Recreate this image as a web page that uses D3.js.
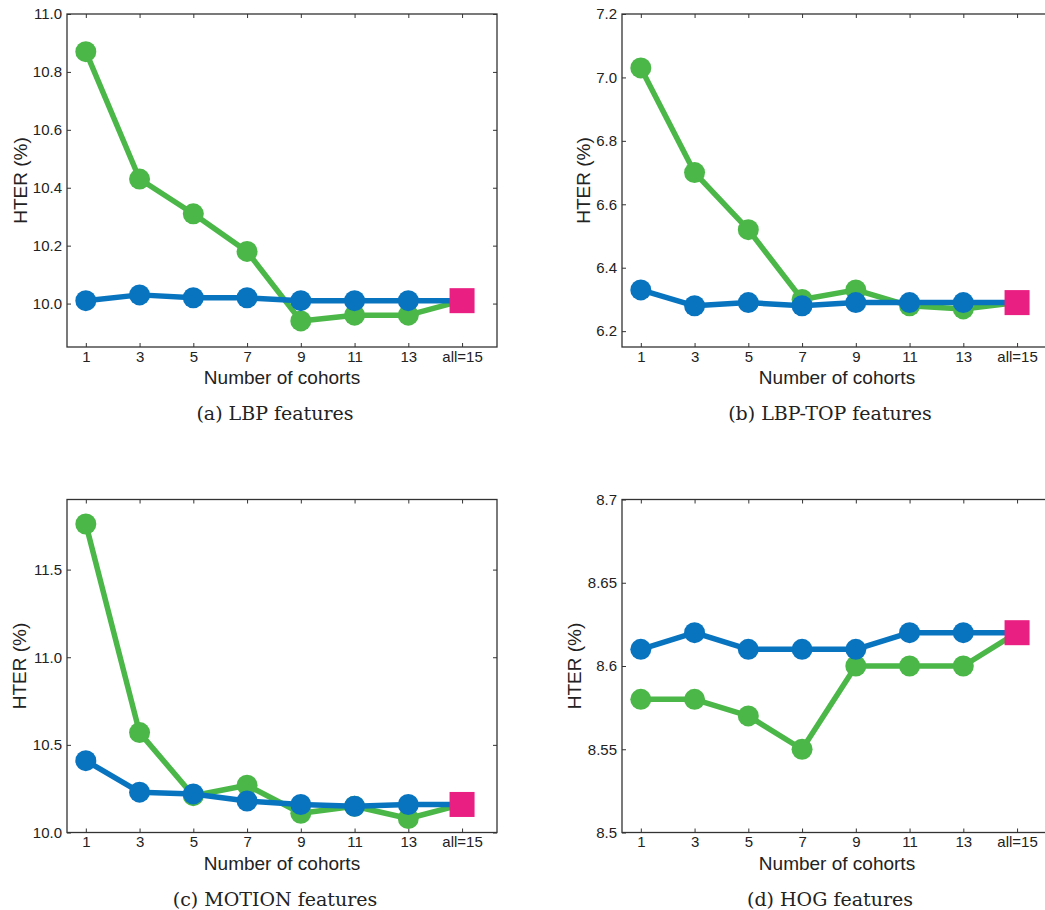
<!DOCTYPE html>
<html>
<head>
<meta charset="utf-8">
<script src="https://cdn.jsdelivr.net/npm/d3@7"></script>
<style>
  html, body { margin: 0; padding: 0; background: #fff; }
  svg { display: block; }
</style>
</head>
<body>
<svg id="chart" width="1045" height="910"></svg>
<script>
// Cohort counts on the x axis and their tick labels
const cohorts = [1, 3, 5, 7, 9, 11, 13, 15];
const cohortLabels = ["1", "3", "5", "7", "9", "11", "13", "all=15"];

// HTER (%) per feature set: green and blue series
const lbpGreen    = [10.87, 10.43, 10.31, 10.18, 9.94, 9.96, 9.96, 10.01];
const lbpBlue     = [10.01, 10.03, 10.02, 10.02, 10.01, 10.01, 10.01, 10.01];
const lbptopGreen = [7.03, 6.70, 6.52, 6.30, 6.33, 6.28, 6.27, 6.29];
const lbptopBlue  = [6.33, 6.28, 6.29, 6.28, 6.29, 6.29, 6.29, 6.29];
const motionGreen = [11.76, 10.57, 10.21, 10.27, 10.11, 10.15, 10.08, 10.16];
const motionBlue  = [10.41, 10.23, 10.22, 10.18, 10.16, 10.15, 10.16, 10.16];
const hogGreen    = [8.58, 8.58, 8.57, 8.55, 8.60, 8.60, 8.60, 8.62];
const hogBlue     = [8.61, 8.62, 8.61, 8.61, 8.61, 8.62, 8.62, 8.62];

// y tick values per panel
const lbpTicks    = [10.0, 10.2, 10.4, 10.6, 10.8, 11.0];
const lbptopTicks = [6.2, 6.4, 6.6, 6.8, 7.0, 7.2];
const motionTicks = [10.0, 10.5, 11.0, 11.5];
const hogTicks    = [8.5, 8.55, 8.6, 8.65, 8.7];

const captions = ["(a) LBP features", "(b) LBP-TOP features", "(c) MOTION features", "(d) HOG features"];

const GREEN = "#4bb748";
const BLUE = "#0874c0";
const PINK = "#ea1f82";
const FRAME = "#333333";
const SANS = "'Liberation Sans', Arial, sans-serif";

const panels = [
  { green: lbpGreen,    blue: lbpBlue,    ticks: lbpTicks,    ymin: 9.85, ymax: 11.0, fmt: d3.format(".1f"), caption: captions[0], left: 67,  top: 14,    ylab: -40 },
  { green: lbptopGreen, blue: lbptopBlue, ticks: lbptopTicks, ymin: 6.15, ymax: 7.2,  fmt: d3.format(".1f"), caption: captions[1], left: 622, top: 14,    ylab: -32 },
  { green: motionGreen, blue: motionBlue, ticks: motionTicks, ymin: 10.0, ymax: 11.9, fmt: d3.format(".1f"), caption: captions[2], left: 67,  top: 499.5, ylab: -41 },
  { green: hogGreen,    blue: hogBlue,    ticks: hogTicks,    ymin: 8.5,  ymax: 8.7,  fmt: d => String(+d.toFixed(2)), caption: captions[3], left: 622, top: 499.5, ylab: -41 }
];

const W = 430, H = 333;
const svg = d3.select("#chart");

panels.forEach(p => {
  const g = svg.append("g").attr("transform", `translate(${p.left},${p.top})`);
  const x = d3.scaleLinear().domain([0.3, 16.3]).range([0, W]);
  const y = d3.scaleLinear().domain([p.ymin, p.ymax]).range([H, 0]);

  const tickFont = g => g.selectAll("text")
    .attr("font-family", SANS).attr("font-size", 15).attr("fill", "#222");
  const tickLine = g => { g.select(".domain").remove(); g.selectAll("line").attr("stroke", FRAME).attr("stroke-width", 1); };

  // bottom axis with inward ticks
  g.append("g").attr("transform", `translate(0,${H})`)
    .call(d3.axisBottom(x).tickValues(cohorts).tickFormat((d, i) => cohortLabels[i]).tickSizeInner(-4).tickSizeOuter(0).tickPadding(4))
    .call(tickLine).call(tickFont);
  // top axis mirror ticks
  g.append("g")
    .call(d3.axisTop(x).tickValues(cohorts).tickFormat("").tickSizeInner(-4).tickSizeOuter(0))
    .call(tickLine);
  // left axis
  g.append("g")
    .call(d3.axisLeft(y).tickValues(p.ticks).tickFormat(p.fmt).tickSizeInner(-4).tickSizeOuter(0).tickPadding(5))
    .call(tickLine).call(tickFont);
  // right axis mirror ticks
  g.append("g").attr("transform", `translate(${W},0)`)
    .call(d3.axisRight(y).tickValues(p.ticks).tickFormat("").tickSizeInner(-4).tickSizeOuter(0))
    .call(tickLine);

  // frame
  g.append("rect").attr("width", W).attr("height", H)
    .attr("fill", "none").attr("stroke", FRAME).attr("stroke-width", 1.3);

  const line = d3.line().x((d, i) => x(cohorts[i])).y(d => y(d));

  [[p.green, GREEN], [p.blue, BLUE]].forEach(([vals, col]) => {
    g.append("path").datum(vals).attr("d", line)
      .attr("fill", "none").attr("stroke", col).attr("stroke-width", 5.5)
      .attr("stroke-linejoin", "round");
    g.selectAll(null).data(vals.slice(0, -1)).enter().append("circle")
      .attr("cx", (d, i) => x(cohorts[i])).attr("cy", d => y(d))
      .attr("r", 10.5).attr("fill", col);
  });

  // all-cohort result as a square marker
  const last = p.blue[p.blue.length - 1];
  const s = 25;
  g.append("rect")
    .attr("x", x(cohorts[cohorts.length - 1]) - s / 2).attr("y", y(last) - s / 2)
    .attr("width", s).attr("height", s).attr("fill", PINK);

  // axis titles
  g.append("text").attr("x", W / 2).attr("y", H + 37)
    .attr("text-anchor", "middle")
    .attr("font-family", SANS).attr("font-size", 19).attr("fill", "#222")
    .text("Number of cohorts");
  g.append("text").attr("transform", `translate(${p.ylab},${H / 2}) rotate(-90)`)
    .attr("text-anchor", "middle")
    .attr("font-family", SANS).attr("font-size", 19).attr("fill", "#222")
    .text("HTER (%)");

  // caption
  g.append("text").attr("x", W / 2 - 7).attr("y", H + 73)
    .attr("text-anchor", "middle")
    .attr("font-family", "'DejaVu Serif', serif").attr("font-size", 19).attr("fill", "#222")
    .text(p.caption);
});
</script>
</body>
</html>
